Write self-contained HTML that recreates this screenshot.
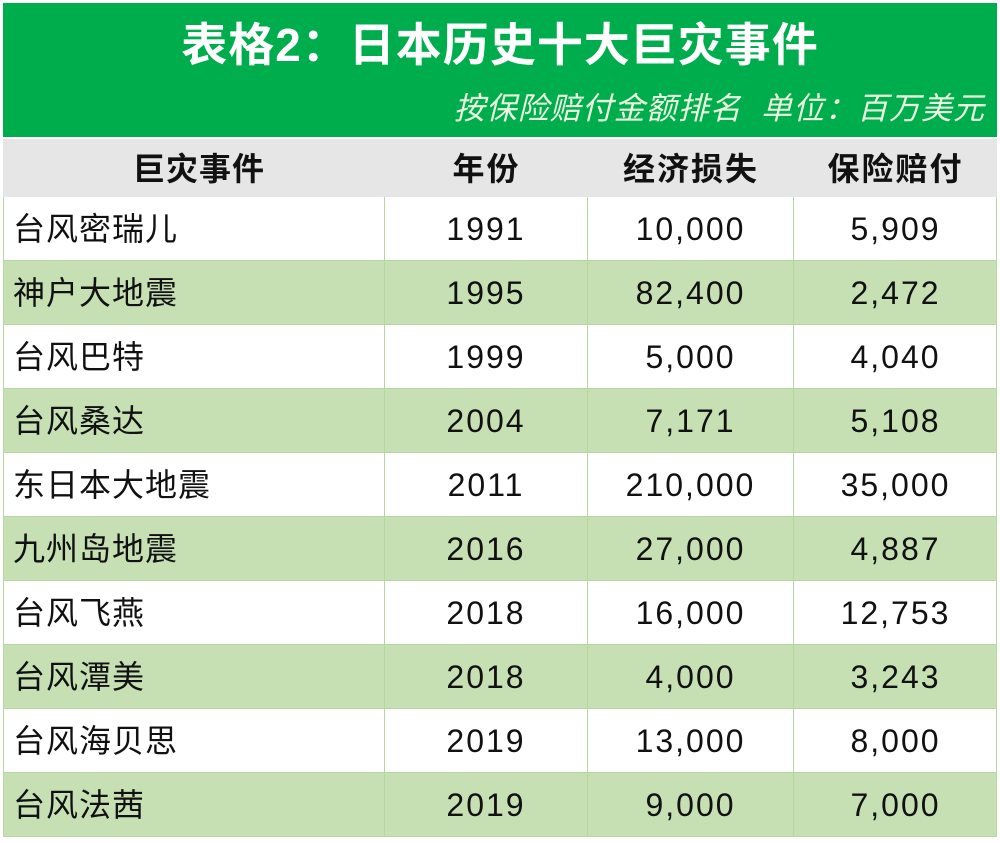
<!DOCTYPE html>
<html><head><meta charset="utf-8"><style>
body{margin:0;width:1000px;height:843px;background:#fff;position:relative;overflow:hidden;font-family:"Liberation Sans","Noto Sans CJK SC",sans-serif}
.hd{position:absolute;left:3px;top:3px;width:994px;height:134px;background:#00ad4d}
.t{position:absolute;left:0;width:994px;top:14px;text-align:center;color:#fff;font-size:46px;line-height:56px;font-weight:bold;letter-spacing:1px}
.s{position:absolute;right:12px;top:88px;color:#eaf7e0;font-size:31px;line-height:36px;font-style:italic;letter-spacing:1px}
.r{position:absolute;left:3px;width:994px;height:64px;box-sizing:border-box;border-bottom:1.5px solid #b5d7a0;border-left:1.5px solid #b5d7a0;border-right:1.5px solid #b5d7a0}
.r div{position:absolute;top:0;height:100%;line-height:64px;text-align:center;font-size:32px;color:#111;letter-spacing:2px;box-sizing:border-box;border-right:1.5px solid #b5d7a0}
.r .a{left:0;width:381px;text-align:left;padding-left:9px;letter-spacing:1px}
.r .b{left:381px;width:203px}
.r .c{left:584px;width:206px}
.r .d{left:790px;width:203px;border-right:none}
.h{background:#e6e6e6;border-color:#e6e6e6}
.h div{font-weight:bold;line-height:60px;border-right:none}
.h .a{text-align:center}
.g{background:#c6e0b4}
</style></head><body>
<div class="hd"><div class="t">表格2：日本历史十大巨灾事件</div><div class="s">按保险赔付金额排名&nbsp;&nbsp;单位：百万美元</div></div>
<div class="r h" style="top:139px;height:58px"><div class="a">巨灾事件</div><div class="b">年份</div><div class="c">经济损失</div><div class="d">保险赔付</div></div>
<div class="r" style="top:197px"><div class="a">台风密瑞儿</div><div class="b">1991</div><div class="c">10,000</div><div class="d">5,909</div></div>
<div class="r g" style="top:261px"><div class="a">神户大地震</div><div class="b">1995</div><div class="c">82,400</div><div class="d">2,472</div></div>
<div class="r" style="top:325px"><div class="a">台风巴特</div><div class="b">1999</div><div class="c">5,000</div><div class="d">4,040</div></div>
<div class="r g" style="top:389px"><div class="a">台风桑达</div><div class="b">2004</div><div class="c">7,171</div><div class="d">5,108</div></div>
<div class="r" style="top:453px"><div class="a">东日本大地震</div><div class="b">2011</div><div class="c">210,000</div><div class="d">35,000</div></div>
<div class="r g" style="top:517px"><div class="a">九州岛地震</div><div class="b">2016</div><div class="c">27,000</div><div class="d">4,887</div></div>
<div class="r" style="top:581px"><div class="a">台风飞燕</div><div class="b">2018</div><div class="c">16,000</div><div class="d">12,753</div></div>
<div class="r g" style="top:645px"><div class="a">台风潭美</div><div class="b">2018</div><div class="c">4,000</div><div class="d">3,243</div></div>
<div class="r" style="top:709px"><div class="a">台风海贝思</div><div class="b">2019</div><div class="c">13,000</div><div class="d">8,000</div></div>
<div class="r g" style="top:773px"><div class="a">台风法茜</div><div class="b">2019</div><div class="c">9,000</div><div class="d">7,000</div></div>
</body></html>
